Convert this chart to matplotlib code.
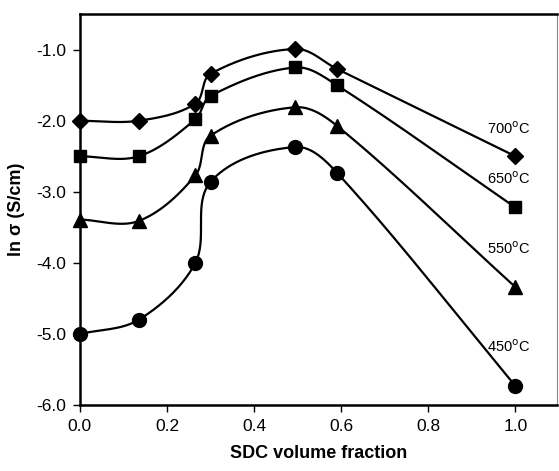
import numpy as np
import matplotlib
matplotlib.use("Agg")
import matplotlib.pyplot as plt

plt.rcParams['font.family'] = ['Liberation Sans', 'DejaVu Sans']

x = [0.0, 0.135, 0.265, 0.30, 0.495, 0.59, 1.0]
y700 = [-2.0, -2.0, -1.76, -1.34, -0.99, -1.27, -2.5]
y650 = [-2.5, -2.5, -1.98, -1.65, -1.25, -1.5, -3.22]
y550 = [-3.39, -3.41, -2.77, -2.21, -1.81, -2.07, -4.34]
y450 = [-5.0, -4.8, -4.0, -2.86, -2.37, -2.73, -5.73]

series = [("700$^{\\rm o}$C", y700, 'D', 8.5, -2.11),
          ("650$^{\\rm o}$C", y650, 's', 9, -2.81),
          ("550$^{\\rm o}$C", y550, '^', 10, -3.80),
          ("450$^{\\rm o}$C", y450, 'o', 10, -5.18)]

fig = plt.figure(figsize=(5.59, 4.71), dpi=100)
ax = fig.add_axes([0.143, 0.140, 0.853, 0.830])
ax.set_xlim(0, 1.095)
ax.set_ylim(-6.0, -0.5)


def smooth(xs, ys, n=40, k=0.33):
    P = ax.transData.transform(np.column_stack([xs, ys]))
    m = len(P)
    tang = []
    for i in range(m):
        a = P[i - 1] if i > 0 else P[i]
        b = P[i + 1] if i + 1 < m else P[i]
        d = b - a
        tang.append(d / np.hypot(*d))
    out = []
    for i in range(m - 1):
        p1, p2 = P[i], P[i + 1]
        L = np.hypot(*(p2 - p1))
        c1 = p1 + tang[i] * L * k
        c2 = p2 - tang[i + 1] * L * k
        t = np.linspace(0, 1, n)[:, None]
        seg = ((1 - t) ** 3) * p1 + 3 * ((1 - t) ** 2) * t * c1 + 3 * (1 - t) * t ** 2 * c2 + t ** 3 * p2
        out.append(seg if i == 0 else seg[1:])
    pts = np.vstack(out)
    d = ax.transData.inverted().transform(pts)
    return d[:, 0], d[:, 1]


for label, ys, mk, ms, ly in series:
    sx, sy = smooth(x, ys)
    ax.plot(sx, sy, color='black', lw=1.6, zorder=2, clip_on=False)
    ax.plot(x, ys, linestyle='none', marker=mk, markersize=ms, color='black', zorder=3, clip_on=False)
    ax.text(0.985, ly, label, ha='center', va='center', fontsize=10.5)

ax.set_xticks([0.0, 0.2, 0.4, 0.6, 0.8, 1.0])
ax.set_xticklabels(['0.0', '0.2', '0.4', '0.6', '0.8', '1.0'])
ax.set_yticks([-6.0, -5.0, -4.0, -3.0, -2.0, -1.0])
ax.set_yticklabels(['-6.0', '-5.0', '-4.0', '-3.0', '-2.0', '-1.0'])
ax.tick_params(direction='out', length=5, width=1.0, labelsize=12.5, pad=5)

for s in ['left', 'bottom', 'top']:
    ax.spines[s].set_linewidth(1.8)
ax.spines['right'].set_linewidth(0.8)
ax.spines['right'].set_color('#888888')

ax.set_xlabel('SDC volume fraction', fontsize=13, fontweight='bold', labelpad=8)
ax.set_ylabel('ln σ (S/cm)', fontsize=13, fontweight='bold', labelpad=8)

fig.savefig('out.png', dpi=100)
